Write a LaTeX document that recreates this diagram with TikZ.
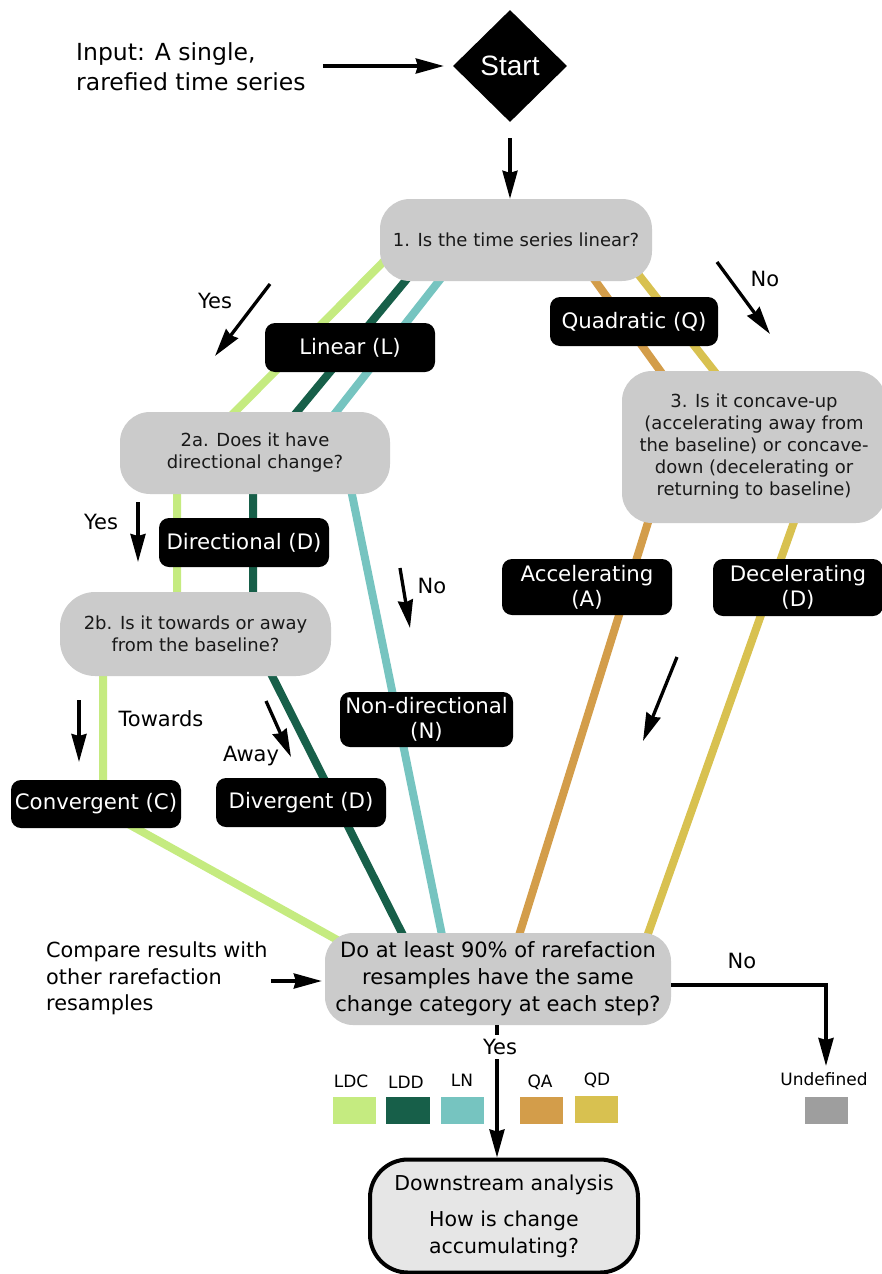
\documentclass[tikz,border=0pt]{standalone}
\usepackage{fontspec}
\setmainfont{DejaVu Sans}
\newfontfamily\startfont{Liberation Sans}
\usetikzlibrary{arrows.meta,shapes.geometric,calc}
\definecolor{cLDC}{HTML}{C5EB80}
\definecolor{cLDD}{HTML}{175F49}
\definecolor{cLN}{HTML}{76C4C0}
\definecolor{cQA}{HTML}{D39D4A}
\definecolor{cQD}{HTML}{D8C150}
\definecolor{cUN}{HTML}{9E9E9E}
\definecolor{qgray}{HTML}{CBCBCB}
\definecolor{dgray}{HTML}{E6E6E6}
\newcommand\myqf{\fontsize{18}{22}\selectfont}
\newcommand\mycf{\fontsize{21.3}{25}\selectfont}
\newcommand\mydf{\fontsize{20.5}{27}\selectfont}
\newcommand\mylf{\fontsize{21}{24}\selectfont}
\newcommand\mybf{\fontsize{21}{27}\selectfont}
\newcommand\mysf{\fontsize{17}{20}\selectfont}
\begin{document}
\begin{tikzpicture}[x=1pt,y=-1pt,
  qbox/.style={fill=qgray, rounded corners=30pt, align=center, inner sep=0pt, text=black!90, font=\myqf},
  cat/.style={fill=black, text=white, rounded corners=10pt, align=center, inner sep=0pt, font=\mycf},
  arr/.style={line width=3.3pt, -{Stealth[length=28pt,width=15pt,inset=2pt]}},
  pth/.style={line width=8pt, line join=round},
  lbl/.style={font=\mylf, inner sep=0pt},
  leg/.style={font=\mysf, inner sep=0pt},
]
\useasboundingbox (0,0) rectangle (881,1274);

% coloured pathways (behind the nodes)
\draw[pth,cLDC] (395,250) -- (222,425) -- (177,470) -- (177,610) -- (103,660) -- (103,810) -- (350,947);
\draw[pth,cLDD] (416,268) -- (282,430) -- (253,465) -- (253,610) -- (259,650) -- (408,945);
\draw[pth,cLN] (446,272) -- (322,430) -- (347,470) -- (444,945);
\draw[pth,cQA] (586,268) -- (674,390) -- (655,500) -- (516,945);
\draw[pth,cQD] (631,265) -- (729,390) -- (800,505) -- (644,945);

% start
\node[diamond, fill=black, text=white, inner sep=0pt, minimum width=114pt, minimum height=112pt, font=\startfont\fontsize{28}{30}\selectfont] (start) at (510,66) {Start};
\node[anchor=west, align=left, inner sep=0pt, font=\fontsize{23.5}{30}\selectfont] (input) at (76,67) {Input: A single,\\rarefied time series};

% question nodes
\node[qbox, minimum width=272pt, minimum height=82pt] (n1) at (516,240) {1. Is the time series linear?};
\node[qbox, minimum width=270pt, minimum height=82pt] (n2a) at (255,453) {2a. Does it have\\directional change?};
\node[qbox, minimum width=271pt, minimum height=84pt, rounded corners=35pt] (n2b) at (195.5,634) {2b. Is it towards or away\\from the baseline?};
\node[qbox, minimum width=264pt, minimum height=152pt] (n3) at (754,447) {3. Is it concave-up\\(accelerating away from\\the baseline) or concave-\\down (decelerating or\\returning to baseline)};
\node[qbox, minimum width=346pt, minimum height=92pt, rounded corners=28pt, font=\mybf, text=black] (n4) at (498,979) {Do at least 90\% of rarefaction\\resamples have the same\\change category at each step?};

% category boxes
\node[cat, minimum width=170pt, minimum height=49pt] (nL) at (350,347.5) {Linear (L)};
\node[cat, minimum width=168pt, minimum height=49pt] (nQ) at (634,321.5) {Quadratic (Q)};
\node[cat, minimum width=170pt, minimum height=49pt] (nD) at (244,542.5) {Directional (D)};
\node[cat, minimum width=173pt, minimum height=55pt] (nN) at (426.5,719.5) {Non-directional\\(N)};
\node[cat, minimum width=170pt, minimum height=56pt] (nA) at (587,587) {Accelerating\\(A)};
\node[cat, minimum width=170pt, minimum height=57pt] (nDe) at (798,587.5) {Decelerating\\(D)};
\node[cat, minimum width=170pt, minimum height=48pt] (nC) at (96,804) {Convergent (C)};
\node[cat, minimum width=170pt, minimum height=49pt] (nDv) at (301,802.5) {Divergent (D)};

% downstream
\node[fill=dgray, draw=black, line width=4pt, rounded corners=38pt, minimum width=268pt, minimum height=113pt, align=center, inner sep=0pt, font=\mydf] (n5) at (504,1216) {Downstream analysis\\[9pt]How is change\\accumulating?};

\node[anchor=west, align=left, inner sep=0pt, font=\fontsize{20.8}{26.5}\selectfont] (cmp) at (46,978.5) {Compare results with\\other rarefaction\\resamples};

% arrows
\draw[arr] ([xshift=17pt]input.east |- start.west) -- ([xshift=-9pt]start.west);
\draw[arr] ([yshift=-16pt]start.south) -- (start.south |- n1.north);
\draw[arr] (270,284) -- (215,356);
\draw[arr] (717,262) -- (770,334);
\draw[arr] (138,502) -- (138,562);
\draw[arr] (400,568) -- (410,628);
\draw[arr] (79,700) -- (79,762);
\draw[arr] (266,701) -- (291,757);
\draw[arr] (677,657) -- (643,741);
\draw[arr] ([xshift=3pt]cmp.east |- 0,981) -- ([xshift=-3pt]n4.west |- 0,981);
\coordinate (undefT) at (826,1066);
\draw[arr, line width=3.6pt] ([yshift=-6pt]n4.east) -| (undefT);
\draw[arr] (n4.south -| 497,0) -- (n5.north -| 497,0);

% labels
\node[lbl] (lYes1) at (215,301) {Yes};
\node[lbl] (lNo1) at (765,279) {No};
\node[lbl] (lYes2) at (101,522) {Yes};
\node[lbl] (lNo2) at (432,586) {No};
\node[lbl] (lTow) at (161,719) {Towards};
\node[lbl] (lAway) at (251,756) {Away};
\node[lbl] (lNo3) at (742,961) {No};
\node[lbl, fill=white, inner ysep=4pt, inner xsep=1pt] (lYes3) at (500,1047) {Yes};

% legend
\fill[cLDC] (333,1097) rectangle (376,1124);
\fill[cLDD] (386,1097) rectangle (430,1124);
\fill[cLN] (441,1097) rectangle (484,1124);
\fill[cQA] (520,1097) rectangle (563,1124);
\fill[cQD] (575,1096) rectangle (618,1123);
\fill[cUN] (805,1097) rectangle (848,1124);
\node[leg] (gLDC) at (351,1081) {LDC};
\node[leg] (gLDD) at (406,1082) {LDD};
\node[leg] (gLN) at (462,1080) {LN};
\node[leg] (gQA) at (540,1082) {QA};
\node[leg] (gQD) at (597,1080) {QD};
\node[leg] (gUN) at (824,1079) {Undefined};
\end{tikzpicture}
\end{document}
